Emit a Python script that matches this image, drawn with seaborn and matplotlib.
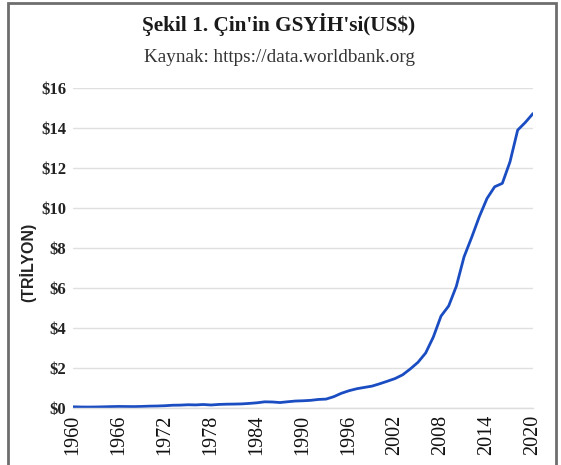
#!/usr/bin/env python3
"""China GDP 1960-2020 (trillion US$), World Bank data."""

import pandas as pd
import numpy as np
import matplotlib
matplotlib.use('Agg')
import matplotlib.pyplot as plt
from matplotlib.patches import Rectangle
import seaborn as sns

# GDP values (trillions of US$)
years = list(range(1960, 2021))
gdp_trillion = [
    0.060, 0.050, 0.047, 0.051, 0.059, 0.070, 0.077, 0.073, 0.070, 0.079,
    0.093, 0.100, 0.114, 0.139, 0.144, 0.163, 0.154, 0.175, 0.150, 0.178,
    0.191, 0.196, 0.205, 0.230, 0.260, 0.309, 0.301, 0.273, 0.312, 0.348,
    0.361, 0.383, 0.427, 0.445, 0.564, 0.735, 0.864, 0.962, 1.029, 1.094,
    1.211, 1.339, 1.471, 1.660, 1.955, 2.286, 2.752, 3.550, 4.594, 5.102,
    6.087, 7.552, 8.532, 9.570, 10.476, 11.062, 11.233, 12.310, 13.895, 14.280,
    14.723,
]
x_ticks = list(range(1960, 2021, 6))
y_ticks = list(range(0, 17, 2))

df = pd.DataFrame({'year': years, 'gdp': gdp_trillion})

sns.set_theme(style='white')
plt.rcParams['font.family'] = ['Liberation Serif', 'DejaVu Serif']

fig = plt.figure(figsize=(5.61, 4.65), dpi=100)
ax = fig.add_axes([73 / 561, 57 / 465, 460 / 561, 320 / 465])

sns.lineplot(data=df, x='year', y='gdp', ax=ax, color='#1a4cc2', linewidth=2.0)

ax.set_xlim(1960, 2020)
ax.set_ylim(0, 16)
ax.set_xticks(x_ticks)
ax.set_xticklabels([str(y) for y in x_ticks], rotation=90, fontsize=14.5, color='#111111')
ax.set_yticks(y_ticks)
ax.set_yticklabels([f'${v}' for v in y_ticks], fontsize=12, fontweight='bold', color='#222222')
ax.tick_params(axis='x', length=0, pad=5)
ax.tick_params(axis='y', length=0, pad=5)
ax.yaxis.grid(True, color='#e0e0e0', linewidth=1.0)
ax.set_axisbelow(True)
for side in ['top', 'right', 'left']:
    ax.spines[side].set_visible(False)
ax.spines['bottom'].set_color('#dddddd')
ax.spines['bottom'].set_linewidth(1.0)
ax.set_xlabel('')
ax.set_ylabel('')

# titles
fig.text(279 / 561, 1 - 25 / 465, "Şekil 1. Çin'in GSYİH'si(US$)", ha='center', va='center',
         fontsize=15.3, fontweight='bold', color='#1a1a1a')
fig.text(279 / 561, 1 - 58 / 465, 'Kaynak: https://data.worldbank.org', ha='center', va='center',
         fontsize=13.8, color='#333333')
fig.text(28 / 561, 1 - 262 / 465, '(TRİLYON)', rotation=90, ha='center', va='center',
         fontsize=11.5, fontweight='bold', family=['Liberation Sans', 'DejaVu Sans'], color='#222222')

# outer frame
fig.patches.append(Rectangle((8 / 561, -0.05), 548 / 561, 1.05 - 3 / 465, transform=fig.transFigure,
                             fill=False, edgecolor='#6e6e6e', linewidth=2.0, clip_on=False))

fig.savefig('out.png', dpi=100)
plt.close(fig)
